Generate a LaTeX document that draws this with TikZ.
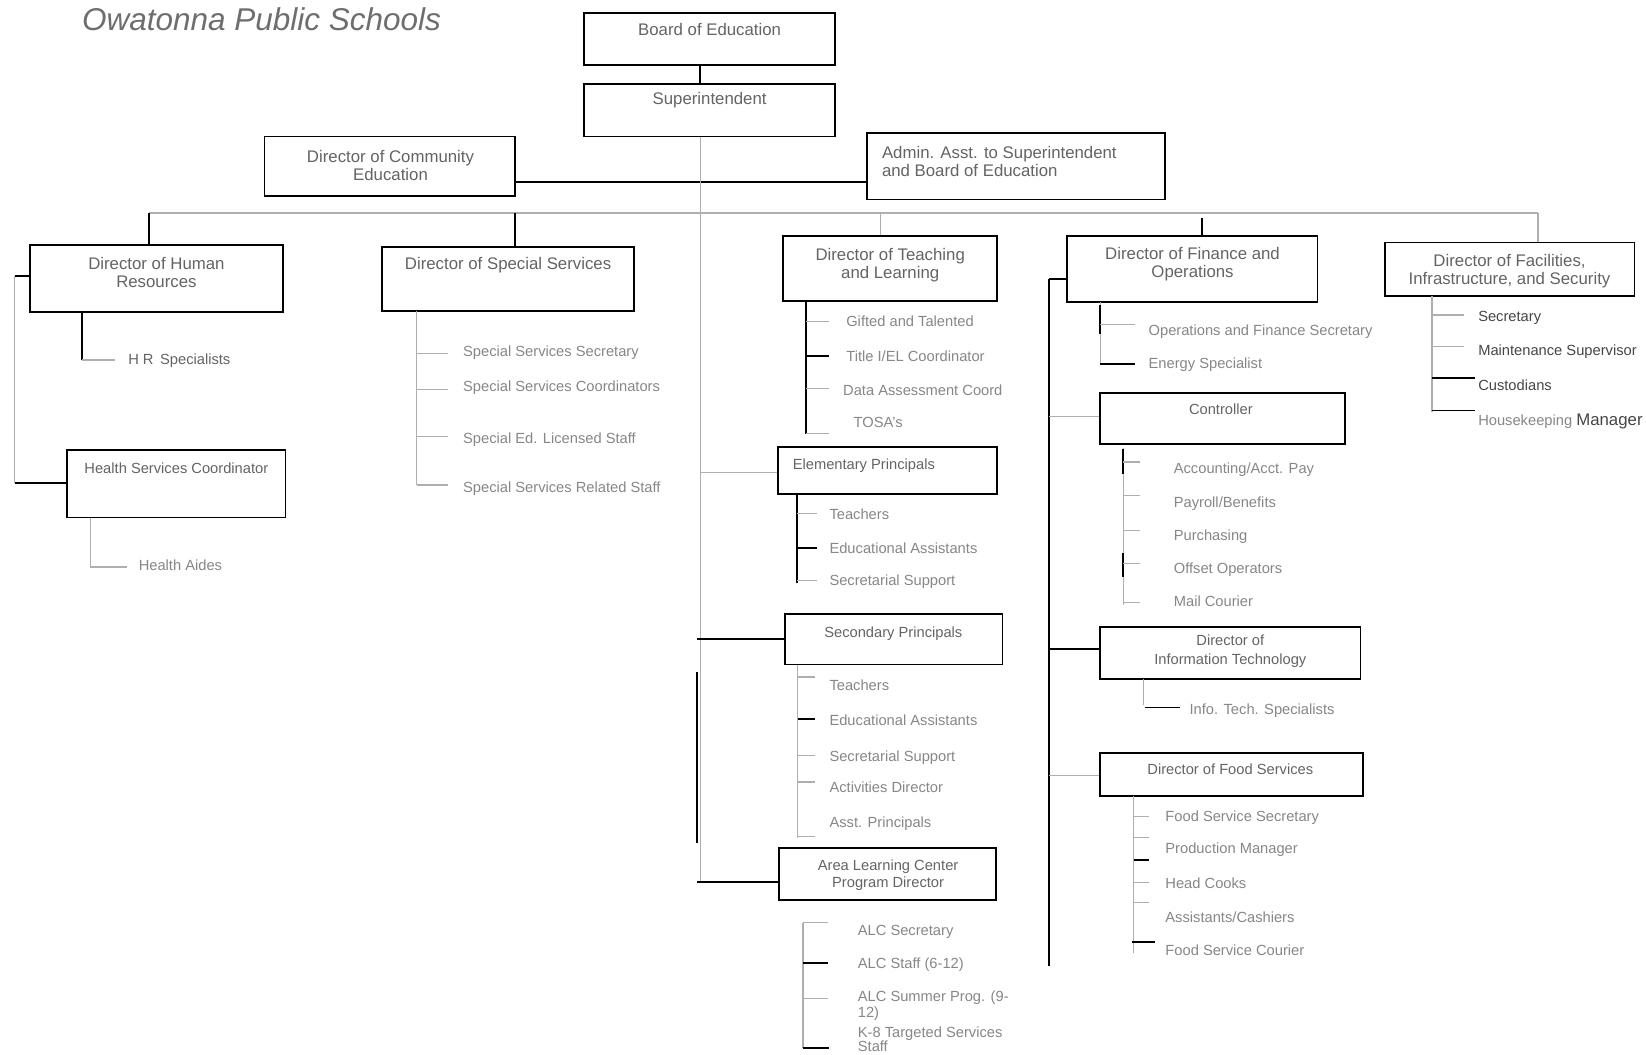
\documentclass[tikz,border=0pt]{standalone}
\usepackage{fontspec}
\setmainfont{Liberation Sans}
\definecolor{ttl}{RGB}{110,110,110}
\definecolor{btxt}{RGB}{100,100,100}
\definecolor{stxt}{RGB}{135,135,135}
\definecolor{dtxt}{RGB}{70,70,70}
\definecolor{gln}{RGB}{175,175,175}
\begin{document}
\begin{tikzpicture}[x=1pt,y=-1pt,
  box/.style={draw=black, line width=1.8pt, inner sep=0pt},
  bline/.style={draw=black, line width=1.8pt},
  gline/.style={draw=gln, line width=1.2pt},
  btext/.style={font=\fontsize{16}{17}\selectfont, text=btxt, align=center, anchor=base, inner sep=0pt},
  bsmall/.style={font=\fontsize{14}{16}\selectfont, text=btxt, align=center, anchor=base, inner sep=0pt},
  stext/.style={font=\fontsize{14}{15}\selectfont, text=stxt, anchor=base west, inner sep=0pt},
  dstext/.style={stext, text=dtxt},
]
\useasboundingbox (0,0) rectangle (1568,1005);
\fill[white] (0,0) rectangle (1568,1005);

% title
\node[font=\fontsize{30}{32}\selectfont\itshape, text=ttl, anchor=base west, inner sep=0pt] (title) at (78,29) {Owatonna Public Schools};

% boxes
\node[box, minimum width=239pt, minimum height=50pt] (board) at (675.5,37) {};
\node[btext] (boardt) at (676,33.5) {Board of Education};
\node[box, minimum width=239pt, minimum height=50pt] (super) at (675.5,105) {};
\node[btext] (supert) at (676,99.5) {Superintendent};
\node[box, minimum width=239pt, minimum height=57pt] (comm) at (371.5,158.5) {};
\node[btext, anchor=center] (commt) at (372,158) {Director of Community\\Education};
\node[box, minimum width=284pt, minimum height=63pt] (admin) at (968,158.5) {};
\node[btext, align=left, anchor=west] (admint) at (840,154) {Admin. Asst. to Superintendent\\and Board of Education};

\node[box, minimum width=241pt, minimum height=64pt] (hr) at (149.5,265) {};
\node[btext, anchor=center] (hrt) at (149,259.5) {Director of Human\\Resources};
\node[box, minimum width=208pt, minimum height=64pt] (health) at (168,461) {};
\node[bsmall] (healtht) at (168,451) {Health Services Coordinator};

\node[box, minimum width=240pt, minimum height=61pt] (ss) at (484,265.5) {};
\node[btext] (sst) at (484,256.5) {Director of Special Services};

\node[box, minimum width=204pt, minimum height=62pt] (tl) at (848,256) {};
\node[btext, anchor=center] (tlt) at (848,252.5) {Director of Teaching\\and Learning};
\node[box, minimum width=209pt, minimum height=45pt] (elem) at (845.5,448.5) {};
\node[bsmall, anchor=base west] (elemt) at (755,447) {Elementary Principals};
\node[box, minimum width=207pt, minimum height=48pt] (sec) at (851.5,609) {};
\node[bsmall] (sect) at (851,607) {Secondary Principals};
\node[box, minimum width=207pt, minimum height=49pt] (alc) at (845.5,832.5) {};
\node[bsmall, anchor=center] (alct) at (846,834) {Area Learning Center\\Program Director};

\node[box, minimum width=239pt, minimum height=63pt] (fin) at (1135.5,256.5) {};
\node[btext, anchor=center] (fint) at (1136,252) {Director of Finance and\\Operations};
\node[box, minimum width=233pt, minimum height=49pt] (ctrl) at (1164.5,398.5) {};
\node[bsmall] (ctrlt) at (1163,395) {Controller};
\node[box, minimum width=248pt, minimum height=50pt] (it) at (1172,622) {};
\node[bsmall, anchor=center, font=\fontsize{14}{18}\selectfont] (itt) at (1172,620) {Director of\\Information Technology};
\node[box, minimum width=250pt, minimum height=41pt] (food) at (1173,737.5) {};
\node[bsmall] (foodt) at (1172,738) {Director of Food Services};

\node[box, minimum width=238pt, minimum height=51pt] (fac) at (1438,256.5) {};
\node[btext, anchor=center] (fact) at (1438,258) {Director of Facilities,\\Infrastructure, and Security};

% top connectors
\coordinate (sp) at (667,0);
\coordinate (ca) at (0,173);
\draw[bline] (board.south -| sp) -- (super.north -| sp);
\draw[bline] (comm.east |- ca) -- (admin.west |- ca);

% bus
\coordinate (bHR) at (142,203);
\coordinate (bSS) at (491,203);
\coordinate (bTL) at (839,203);
\coordinate (bFI) at (1145,208);
\coordinate (bFA) at (1465,203);
\draw[gline] (bHR) -- (bFA);
\draw[bline] (bHR) -- (bHR |- hr.north);
\draw[bline] (bSS) -- (bSS |- ss.north);
\draw[gline] (bTL) -- (bTL |- tl.north);
\draw[bline] (bFI) -- (bFI |- fin.north);
\draw[gline] (bFA) -- (bFA |- fac.north);

% spine
\coordinate (spb) at (664,0);
\coordinate (jsec) at (0,609);
\coordinate (jalc) at (0,840);
\coordinate (jel) at (0,450);
\draw[gline] (super.south -| sp) -- (sp |- jalc);
\draw[bline] (664,640) -- (664,803);
\draw[gline] (sp |- jel) -- (elem.west |- jel);
\draw[bline] (spb |- jsec) -- (sec.west |- jsec);
\draw[bline] (spb |- jalc) -- (alc.west |- jalc);

% HR
\draw[bline] (78,297) -- (78,343);
\draw[gline] (78,343) -- (110,343);
\node[stext, text=btxt] (hrs) at (122,347) {H R\, Specialists};
\draw[bline] (hr.west |- 0,263) -- (14,263);
\draw[gline] (14,263) -- (14,460);
\draw[bline] (14,460) -- (health.west |- 0,460);
\draw[gline] (86,493) -- (86,540) -- (121,540);
\node[stext] (ha) at (132,543) {Health Aides};

% Special services
\draw[gline] (397,296) -- (397,462);
\foreach \y in {337,371,416,462} \draw[gline] (397,\y) -- (427,\y);
\node[stext] (ss1) at (441,340) {Special Services Secretary};
\node[stext] (ss2) at (441,373) {Special Services Coordinators};
\node[stext] (ss3) at (441,422) {Special Ed. Licensed Staff};
\node[stext] (ss4) at (441,469) {Special Services Related Staff};

% Teaching and learning
\draw[bline] (768,287) -- (768,413);
\draw[gline] (768,306) -- (790,306);
\draw[bline] (768,339) -- (790,339);
\draw[gline] (768,370) -- (790,370);
\draw[gline] (768,413) -- (790,413);
\node[stext] (tl1) at (806,311) {Gifted and Talented};
\node[stext] (tl2) at (806,344) {Title I/EL Coordinator};
\node[stext] (tl3) at (803,377) {Data Assessment Coord};
\node[stext] (tl4) at (813,407) {TOSA's};

% Elementary
\draw[bline] (759,471) -- (759,555);
\draw[gline] (759,489) -- (778,489);
\draw[bline] (759,522) -- (778,522);
\draw[gline] (759,553) -- (778,553);
\node[stext] (el1) at (790,495) {Teachers};
\node[stext] (el2) at (790,527) {Educational Assistants};
\node[stext] (el3) at (790,558) {Secretarial Support};

% Secondary
\draw[gline] (760,633) -- (760,798);
\draw[gline] (760,645) -- (776,645);
\draw[bline] (760,685) -- (776,685);
\draw[gline] (760,720) -- (776,720);
\draw[gline] (760,745) -- (776,745);
\draw[gline] (760,797) -- (776,797);
\node[stext] (se1) at (790,658) {Teachers};
\node[stext] (se2) at (790,691) {Educational Assistants};
\node[stext] (se3) at (790,725) {Secretarial Support};
\node[stext] (se4) at (790,755) {Activities Director};
\node[stext] (se5) at (790,788) {Asst. Principals};

% ALC
\draw[gline] (765,879) -- (765,998);
\draw[gline] (765,879) -- (789,879);
\draw[bline] (765,917) -- (789,917);
\draw[gline] (765,951) -- (789,951);
\draw[bline] (765,998) -- (790,998);
\node[stext] (al1) at (817,891) {ALC Secretary};
\node[stext] (al2) at (817,923) {ALC Staff (6-12)};
\node[stext] (al3) at (817,954) {ALC Summer Prog. (9-};
\node[stext] (al3b) at (817,969) {12)};
\node[stext] (al4) at (817,988) {K-8 Targeted Services};
\node[stext] (al4b) at (817,1002) {Staff};

% Finance
\draw[bline] (fin.west |- 0,266) -- (999,266);
\draw[bline] (999,266) -- (999,920);
\draw[gline] (999,397) -- (ctrl.west |- 0,397);
\draw[bline] (999,618) -- (it.west |- 0,618);
\draw[gline] (999,739) -- (food.west |- 0,739);
\draw[gline] (1048,288) -- (1048,347);
\draw[bline] (1048,291) -- (1048,318);
\draw[gline] (1048,309) -- (1081,309);
\draw[bline] (1048,347) -- (1081,347);
\node[stext] (fi1) at (1094,320) {Operations and Finance Secretary};
\node[stext] (fi2) at (1094,351) {Energy Specialist};

% Controller
\draw[gline] (1070,427) -- (1070,576);
\draw[bline] (1070,428) -- (1070,452);
\draw[bline] (1070,527) -- (1070,550);
\foreach \y in {440,472,505,537,574} \draw[gline] (1070,\y) -- (1086,\y);
\node[stext] (c1) at (1118,451) {Accounting/Acct. Pay};
\node[stext] (c2) at (1118,483) {Payroll/Benefits};
\node[stext] (c3) at (1118,515) {Purchasing};
\node[stext] (c4) at (1118,546) {Offset Operators};
\node[stext] (c5) at (1118,578) {Mail Courier};

% IT
\draw[gline] (1089,647) -- (1089,672);
\draw[bline] (1091,674) -- (1124,674);
\node[stext] (it1) at (1133,681) {Info. Tech. Specialists};

% Food
\draw[gline] (1080,758) -- (1080,908);
\foreach \y in {778,798,841,860} \draw[gline] (1080,\y) -- (1095,\y);
\draw[bline] (1080,819) -- (1095,819);
\draw[bline] (1078,897) -- (1100,897);
\node[stext] (f1) at (1110,783) {Food Service Secretary};
\node[stext] (f2) at (1110,813) {Production Manager};
\node[stext] (f3) at (1110,846) {Head Cooks};
\node[stext] (f4) at (1110,879) {Assistants/Cashiers};
\node[stext] (f5) at (1110,910) {Food Service Courier};

% Facilities
\draw[gline] (1364,282) -- (1364,392);
\draw[gline] (1364,300) -- (1395,300);
\draw[gline] (1364,330) -- (1395,330);
\draw[bline] (1364,360) -- (1405,360);
\draw[bline] (1364,391) -- (1405,391);
\node[dstext] (fa1) at (1408,306) {Secretary};
\node[dstext] (fa2) at (1408,339) {Maintenance Supervisor};
\node[dstext] (fa3) at (1408,372) {Custodians};
\node[stext] (fa4) at (1408,405) {Housekeeping \textcolor{dtxt}{\fontsize{16}{17}\selectfont Manager}};
\end{tikzpicture}
\end{document}
